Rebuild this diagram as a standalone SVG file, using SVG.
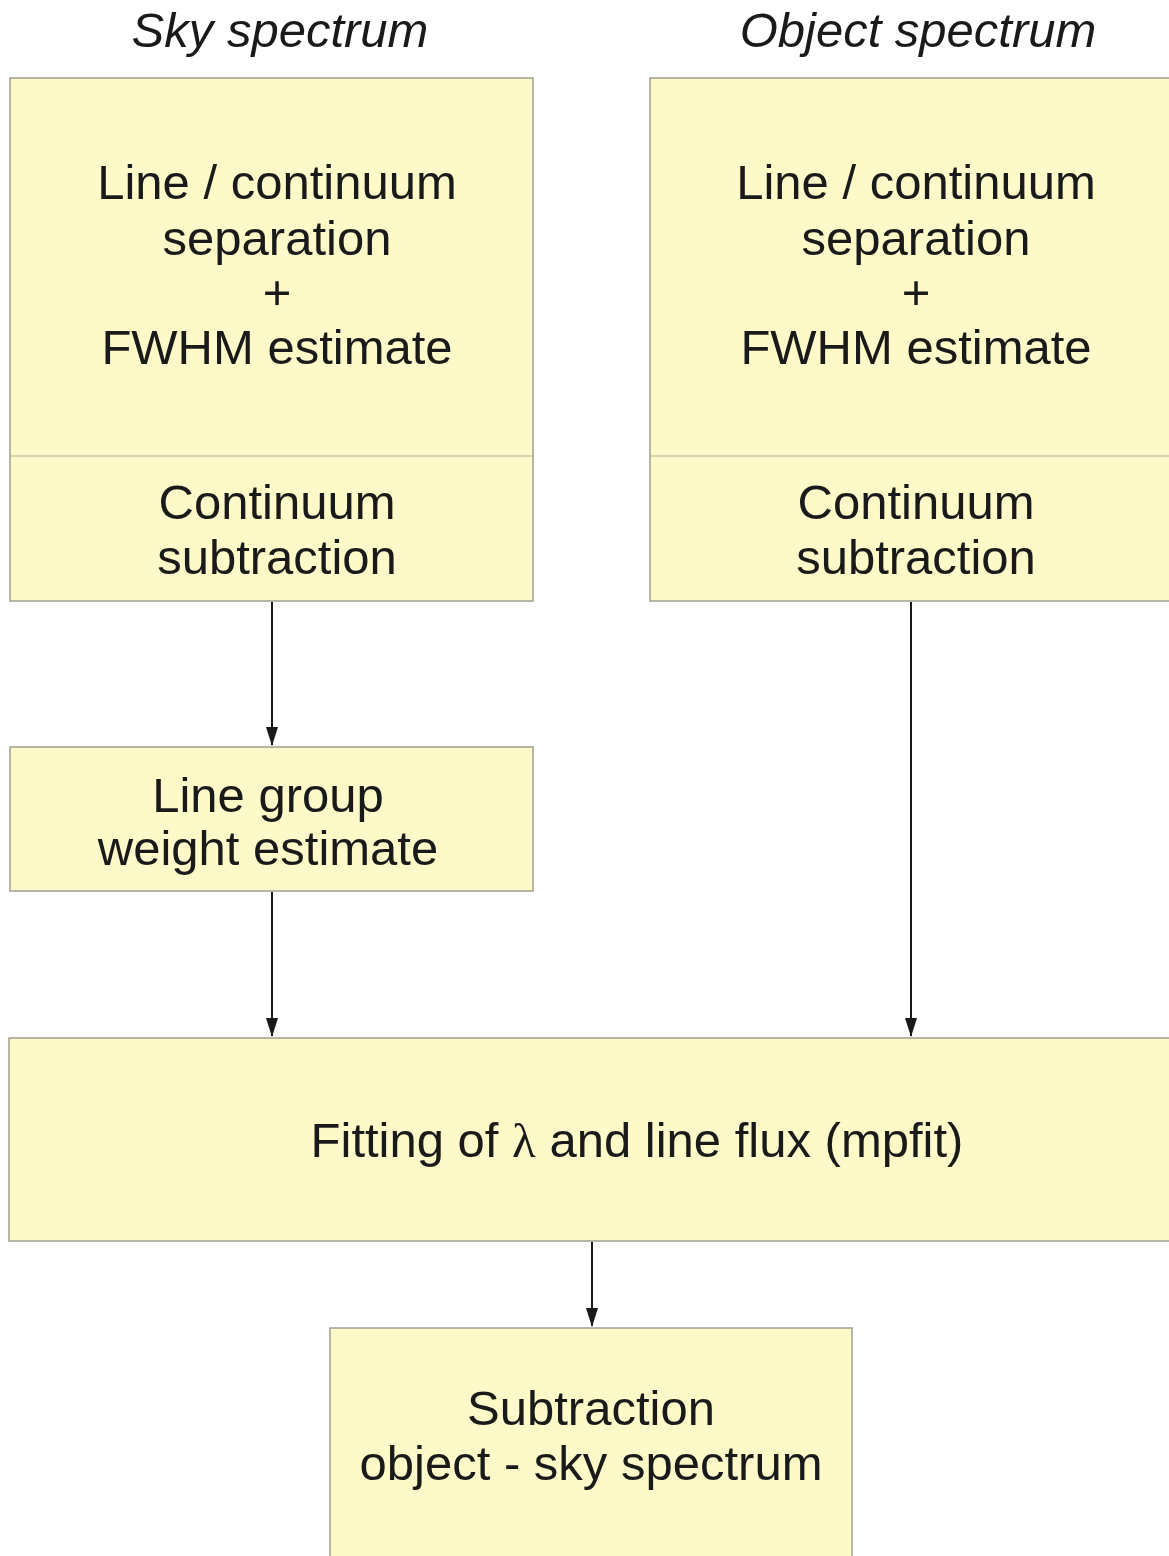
<svg xmlns="http://www.w3.org/2000/svg" width="1169" height="1556" viewBox="0 0 1169 1556">
<style>
.box{fill:#fef9c8;stroke:#a09f90;stroke-width:1.5}
.div{stroke:#b0ae9c;stroke-width:1.2}
.t{font-family:"Liberation Sans",Arial,sans-serif;font-size:49px;fill:#1a1a1a;text-anchor:middle}
.ti{font-family:"Liberation Sans",Arial,sans-serif;font-size:49px;font-style:italic;fill:#1a1a1a;text-anchor:middle}
.c{stroke:#1a1a1a;stroke-width:2;fill:none;marker-end:url(#ah)}
</style>
<defs>
<marker id="ah" viewBox="0 0 19 12" markerWidth="19" markerHeight="12" refX="18" refY="6" orient="auto" markerUnits="userSpaceOnUse">
<path d="M0,0 L19,6 L0,12 Z" fill="#1a1a1a"/>
</marker>
</defs>
<rect width="1169" height="1556" fill="#ffffff"/>
<g id="title-sky"><text class="ti" x="280" y="47">Sky spectrum</text></g>
<g id="title-object"><text class="ti" x="918" y="47">Object spectrum</text></g>
<g id="sky-box">
<rect class="box" x="10" y="78" width="523" height="523"/>
<line class="div" x1="10" y1="456" x2="533" y2="456"/>
<text class="t" x="277" y="199">Line / continuum</text>
<text class="t" x="277" y="255">separation</text>
<text class="t" x="277" y="309">+</text>
<text class="t" x="277" y="364">FWHM estimate</text>
<text class="t" x="277" y="519">Continuum</text>
<text class="t" x="277" y="574">subtraction</text>
</g>
<g id="object-box">
<rect class="box" x="650" y="78" width="530" height="523"/>
<line class="div" x1="650" y1="456" x2="1169" y2="456"/>
<text class="t" x="916" y="199">Line / continuum</text>
<text class="t" x="916" y="255">separation</text>
<text class="t" x="916" y="309">+</text>
<text class="t" x="916" y="364">FWHM estimate</text>
<text class="t" x="916" y="519">Continuum</text>
<text class="t" x="916" y="574">subtraction</text>
</g>
<g id="weight-box">
<rect class="box" x="10" y="747" width="523" height="144"/>
<text class="t" x="268" y="812">Line group</text>
<text class="t" x="268" y="865">weight estimate</text>
</g>
<g id="fit-box">
<rect class="box" x="9" y="1038" width="1170" height="203"/>
<text class="t" x="637" y="1157">Fitting of <tspan font-family="'Liberation Serif',serif">λ</tspan> and line flux (mpfit)</text>
</g>
<g id="sub-box">
<rect class="box" x="330" y="1328" width="522" height="240"/>
<text class="t" x="591" y="1425">Subtraction</text>
<text class="t" x="591" y="1480">object - sky spectrum</text>
</g>
<g id="connectors">
<line class="c" x1="272" y1="602" x2="272" y2="745"/>
<line class="c" x1="272" y1="892" x2="272" y2="1036"/>
<line class="c" x1="911" y1="602" x2="911" y2="1036"/>
<line class="c" x1="592" y1="1242" x2="592" y2="1326"/>
</g>
</svg>
